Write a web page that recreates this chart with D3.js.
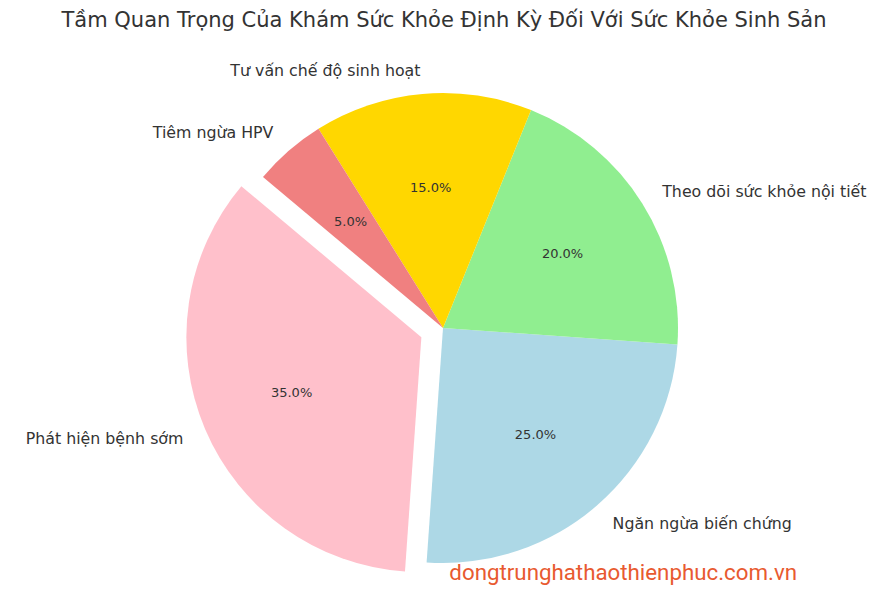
<!DOCTYPE html>
<html><head><meta charset="utf-8">
<script src="https://cdn.jsdelivr.net/npm/d3@7"></script>
<style>body{margin:0;background:#fff}</style>
</head><body><div id="chart"></div>
<script>
var labels = ["Phát hiện bệnh sớm", "Ngăn ngừa biến chứng", "Theo dõi sức khỏe nội tiết", "Tư vấn chế độ sinh hoạt", "Tiêm ngừa HPV"];
var values = [35, 25, 20, 15, 5];
var colors = ["pink", "lightblue", "lightgreen", "gold", "lightcoral"];
var explode = [0.1, 0, 0, 0, 0];
var startAngle = 140;

var width = 895, height = 596, cx = 443, cy = 328, r = 235;
var svg = d3.select("#chart").append("svg").attr("width", width).attr("height", height)
  .style("font-family", "DejaVu Sans");

svg.append("text").attr("x", 444).attr("y", 27).attr("text-anchor", "middle")
  .attr("font-size", 21).attr("fill", "#333")
  .text("Tầm Quan Trọng Của Khám Sức Khỏe Định Kỳ Đối Với Sức Khỏe Sinh Sản");

var total = d3.sum(values);
var arc = d3.arc().innerRadius(0).outerRadius(r);
var rad = Math.PI / 180;
var theta = startAngle;

values.forEach(function(v, i) {
  var t1 = theta, t2 = theta + v / total * 360;
  theta = t2;
  var mid = (t1 + t2) / 2 * rad;
  var ox = cx + explode[i] * r * Math.cos(mid), oy = cy - explode[i] * r * Math.sin(mid);
  var g = svg.append("g").attr("transform", "translate(" + ox + "," + oy + ")");
  g.append("path")
    .attr("d", arc({ startAngle: (90 - t2) * rad, endAngle: (90 - t1) * rad }))
    .attr("fill", colors[i]);
  var lx = 1.1 * r * Math.cos(mid), ly = -1.1 * r * Math.sin(mid);
  g.append("text").attr("x", lx).attr("y", ly).attr("dy", "0.35em")
    .attr("text-anchor", lx > 0 ? "start" : "end")
    .attr("font-size", 15.8).attr("fill", "#333").text(labels[i]);
  g.append("text").attr("x", 0.6 * r * Math.cos(mid)).attr("y", -0.6 * r * Math.sin(mid))
    .attr("dy", "0.35em").attr("text-anchor", "middle")
    .attr("font-size", 13).attr("fill", "#333").text(d3.format(".1f")(v / total * 100) + "%");
});

svg.append("text").attr("x", 797).attr("y", 580).attr("text-anchor", "end")
  .attr("font-size", 22.3).attr("fill", "#e85a30").style("font-family", "Roboto, DejaVu Sans")
  .text("dongtrunghathaothienphuc.com.vn");
</script></body></html>
